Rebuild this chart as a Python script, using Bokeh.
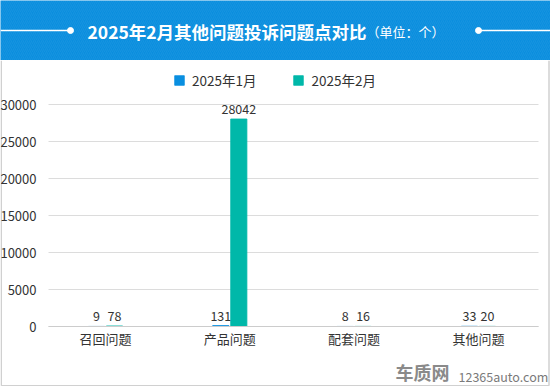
from bokeh.plotting import figure
from bokeh.models import (ColumnDataSource, Range1d, FixedTicker, Legend, LegendItem,
                          LinearAxis, Grid)
from bokeh.transform import dodge
from bokeh.layouts import column
from bokeh.core.properties import value
from bokeh.embed import file_html
from bokeh.resources import INLINE

# ---- data ----
categories = ["召回问题", "产品问题", "配套问题", "其他问题"]
series_names = ["2025年1月", "2025年2月"]
jan_values = [9, 131, 8, 33]
feb_values = [78, 28042, 16, 20]
y_ticks = [0, 5000, 10000, 15000, 20000, 25000, 30000]
title_text = "2025年2月其他问题投诉问题点对比"
unit_text = "（单位：个）"
watermark_logo = "车质网"
watermark_site = "12365auto.com"

FONT = "Noto Sans CJK SC"
BLUE = "#0a8fe0"
TEAL = "#00b8a9"
HEADER = "#0a8ede"

# ---- header ----
hdr = figure(width=550, height=60, x_range=Range1d(0, 550), y_range=Range1d(60, 0),
             output_backend="svg", toolbar_location=None, min_border=0,
             x_axis_location=None, y_axis_location=None,
             background_fill_color=HEADER, border_fill_color=HEADER, outline_line_color=None)
hdr.grid.visible = False
hdr.quad(left=[0], right=[550], bottom=[60], top=[0], fill_alpha=0, line_color=None,
         hatch_pattern="right_diagonal_line", hatch_color="white", hatch_alpha=0.05, hatch_scale=4)
hdr.segment(x0=[0, 478], y0=[30, 30], x1=[70, 550], y1=[30, 30], line_color="white", line_width=1.5)
hdr.scatter(x=[70, 478], y=[30, 30], size=6, color="white")
hdr.text(x=[87], y=[31], text=[title_text], text_color="white", text_font=value(FONT),
         text_font_size="17.5px", text_font_style="bold", text_baseline="middle", text_align="left")
hdr.text(x=[366], y=[31], text=[unit_text], text_color="white", text_font=value(FONT),
         text_font_size="13px", text_baseline="middle", text_align="left")

# ---- chart (frame covers the whole card; axes are fixed inside it) ----
CH_TOP = 60          # page y where the chart card starts
CH_H = 326           # card height
ZERO_Y = 326         # page y of value 0
PX_PER_UNIT = 222.0 / 30000
CAT0_X = 105.0       # page x of the first category centre
CAT_W = 124.3        # page px per category


def px_x(px):
    return (px - CAT0_X) / CAT_W


def px_y(py):
    return (ZERO_Y - py) / PX_PER_UNIT


idx = list(range(len(categories)))
src = ColumnDataSource(dict(i=idx, jan=jan_values, feb=feb_values,
                            jan_lbl=[str(v) for v in jan_values],
                            feb_lbl=[str(v) for v in feb_values]))

p = figure(width=550, height=CH_H,
           x_range=Range1d(px_x(0), px_x(550)), y_range=Range1d(px_y(CH_TOP + CH_H), px_y(CH_TOP)),
           output_backend="svg", toolbar_location=None, min_border=0,
           x_axis_location=None, y_axis_location=None,
           outline_line_color=None, background_fill_color="white", border_fill_color="white")
p.grid.visible = False

grid = Grid(dimension=1, ticker=FixedTicker(ticks=y_ticks), grid_line_color="#dcdcdc",
            cross_bounds=(px_x(48), px_x(538)))
p.add_layout(grid)

bw = 16.2 / CAT_W
off = 9 / CAT_W
r1 = p.vbar(x=dodge("i", -off), top="jan", width=bw, source=src, fill_color=BLUE,
            line_color=BLUE, line_width=0.8)
r2 = p.vbar(x=dodge("i", off), top="feb", width=bw, source=src, fill_color=TEAL,
            line_color=TEAL, line_width=0.8)
for col, lbl in (("jan", "jan_lbl"), ("feb", "feb_lbl")):
    p.text(x=dodge("i", -off if col == "jan" else off), y=col, text=lbl, source=src,
           text_align="center", text_baseline="bottom", y_offset=-5, text_color="#333333",
           text_font=value(FONT), text_font_size="12.5px")

xaxis = LinearAxis(fixed_location=0, ticker=FixedTicker(ticks=idx),
                   major_label_overrides={i: c for i, c in zip(idx, categories)},
                   bounds=(px_x(48), px_x(538)))
xaxis.axis_line_color = "#cccccc"
xaxis.major_tick_line_color = None
xaxis.minor_tick_line_color = None
xaxis.major_label_standoff = -4
xaxis.major_label_text_font = FONT
xaxis.major_label_text_font_size = "13px"
xaxis.major_label_text_color = "#333333"
p.add_layout(xaxis, "below")

yaxis = LinearAxis(fixed_location=px_x(44), ticker=FixedTicker(ticks=y_ticks), bounds=(0, 30000))
yaxis.axis_line_color = None
yaxis.major_tick_line_color = None
yaxis.minor_tick_line_color = None
yaxis.major_label_standoff = 2
yaxis.major_label_text_font = FONT
yaxis.major_label_text_font_size = "13px"
yaxis.major_label_text_color = "#333333"
p.add_layout(yaxis, "left")

legend = Legend(items=[LegendItem(label=series_names[0], renderers=[r1]),
                       LegendItem(label=series_names[1], renderers=[r2])],
                orientation="horizontal", location=(173, 296), border_line_color=None,
                background_fill_alpha=0, padding=0, margin=0, spacing=36,
                glyph_width=12, glyph_height=12, label_standoff=7,
                label_text_font=FONT, label_text_font_size="13.5px", label_text_color="#333333")
p.add_layout(legend)

# card border (left, right, bottom)
p.segment(x0=[px_x(0.75), px_x(548.5), px_x(0.75)],
          y0=[px_y(CH_TOP), px_y(CH_TOP), px_y(385.25)],
          x1=[px_x(0.75), px_x(548.5), px_x(548.5)],
          y1=[px_y(385.25), px_y(385.25), px_y(385.25)],
          line_color="#d0d0d0", line_width=1.5)

# watermark
p.text(x=[px_x(395)], y=[px_y(371)], text=[watermark_logo], text_font=value(FONT),
       text_font_size="18px", text_font_style="bold", text_color="#8a8a8a",
       text_baseline="middle", text_align="left")
p.text(x=[px_x(458)], y=[px_y(376)], text=[watermark_site], text_font=value(FONT),
       text_font_size="12.5px", text_color="#7a7a7a", text_baseline="middle", text_align="left")

layout = column(hdr, p, spacing=0)
open("out.html", "w").write(file_html(layout, INLINE))
